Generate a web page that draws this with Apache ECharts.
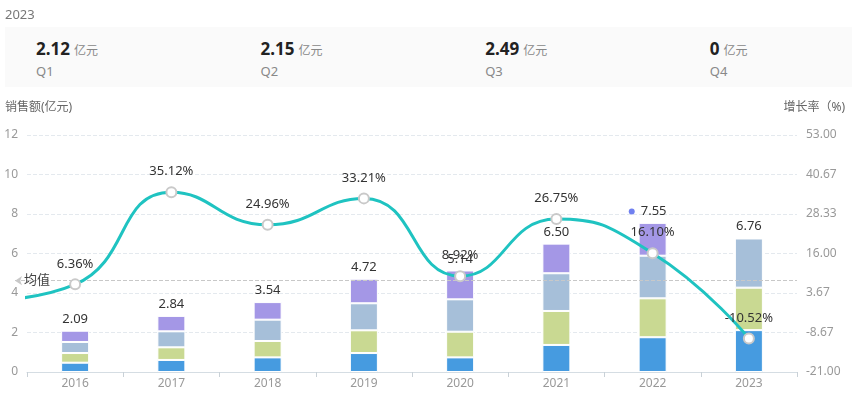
<!DOCTYPE html>
<html>
<head>
<meta charset="utf-8">
<script src="https://cdn.jsdelivr.net/npm/echarts@6/dist/echarts.min.js"></script>
<style>
  html, body { margin: 0; padding: 0; background: #fff; }
  body { width: 857px; height: 399px; position: relative; overflow: hidden;
         font-family: "Noto Sans", "Noto Sans CJK SC", sans-serif; }
  #chart { position: absolute; left: 0; top: 0; width: 857px; height: 399px; }
  .abs { position: absolute; white-space: nowrap; }
  #year { left: 5px; top: 5px; font-size: 13px; line-height: 18px; color: #777; }
  #panel { left: 5px; top: 27px; width: 847px; height: 60px; background: #fafafa; }
  .item { position: absolute; top: 0; }
  .num { position: absolute; top: 11px; font-size: 17px; line-height: 22px; font-weight: bold; color: #222; }
  .unit { font-size: 12px; font-weight: normal; color: #888; margin-left: 4px; }
  .q { position: absolute; top: 35px; font-size: 13px; line-height: 18px; color: #888; }
  #lname { left: 5px; top: 98px; font-size: 12px; line-height: 18px; color: #666; }
  #rname { right: 12px; top: 98px; font-size: 12px; line-height: 18px; color: #666; }
</style>
</head>
<body>
<div id="chart"></div>
<div id="year" class="abs"></div>
<div id="panel" class="abs"></div>
<div id="lname" class="abs">销售额(亿元)</div>
<div id="rname" class="abs">增长率（%)</div>
<script>
// ---- data ----
const YEARS = ['2016', '2017', '2018', '2019', '2020', '2021', '2022', '2023'];
const Q1 = [0.47, 0.61, 0.74, 0.96, 0.74, 1.37, 1.76, 2.12];
const Q2 = [0.49, 0.64, 0.83, 1.15, 1.30, 1.72, 1.97, 2.15];
const Q3 = [0.56, 0.81, 1.08, 1.37, 1.64, 1.91, 2.16, 2.49];
const Q4 = [0.57, 0.78, 0.89, 1.24, 1.46, 1.50, 1.66, 0];
const QUARTER_NAMES = ['Q1', 'Q2', 'Q3', 'Q4'];
const GROWTH_YEARS = ['2015', '2016', '2017', '2018', '2019', '2020', '2021', '2022', '2023'];
const GROWTH = [1.0, 6.36, 35.12, 24.96, 33.21, 8.92, 26.75, 16.10, -10.52];
const CURRENT_YEAR = '2023';
const UNIT = '亿元';
const MEAN_LABEL = '均值';

// ---- derived ----
const QUARTERS = [Q1, Q2, Q3, Q4];
const TOTALS = YEARS.map((y, i) => QUARTERS.reduce((s, q) => s + q[i], 0));
const curIdx = YEARS.indexOf(CURRENT_YEAR);
const completeTotals = TOTALS.filter((t, i) => i !== curIdx);
const MEAN = completeTotals.reduce((a, b) => a + b, 0) / completeTotals.length;
const maxIdx = TOTALS.indexOf(Math.max.apply(null, TOTALS));

// ---- header ----
document.getElementById('year').textContent = CURRENT_YEAR;
const panel = document.getElementById('panel');
QUARTERS.forEach((q, k) => {
  const v = q[curIdx];
  const it = document.createElement('div');
  it.className = 'item';
  it.style.left = (31 + k * 224.6) + 'px';
  it.innerHTML = '<div class="num">' + (v === 0 ? '0' : v.toFixed(2)) +
    '<span class="unit">' + UNIT + '</span></div><div class="q">' + QUARTER_NAMES[k] + '</div>';
  panel.appendChild(it);
});

// ---- chart ----
const FONT = '"Noto Sans", "Noto Sans CJK SC", sans-serif';
const COLORS = ['#469be0', '#c9d992', '#a6bfd9', '#a497e6'];
const chart = echarts.init(document.getElementById('chart'));

const barSeries = QUARTERS.map((q, k) => {
  const s = {
    type: 'bar',
    name: QUARTER_NAMES[k],
    stack: 'total',
    barWidth: 28,
    xAxisIndex: 0,
    yAxisIndex: 0,
    itemStyle: { color: COLORS[k], borderColor: '#fff', borderWidth: 1 },
    data: q.slice()
  };
  if (k === 3) {
    s.data = q.map((v, i) => i === maxIdx
      ? { value: v, label: { offset: [-5, 0] } }
      : v);
    s.label = {
      show: true,
      position: 'top',
      distance: 5,
      color: '#333',
      fontSize: 13,
      fontFamily: FONT,
      formatter: p => {
        const t = TOTALS[p.dataIndex].toFixed(2);
        return p.dataIndex === maxIdx ? '{dot|}{gap|}' + t : t;
      },
      rich: {
        dot: { width: 6, height: 6, borderRadius: 3, backgroundColor: '#7080f0' },
        gap: { width: 6 }
      }
    };
  }
  if (k === 0) {
    s.markLine = {
      silent: true,
      symbol: ['arrow', 'none'],
      symbolSize: [7, 7],
      lineStyle: { type: 'dashed', color: '#c8c8c8', width: 1 },
      itemStyle: { color: '#cfcfcf' },
      label: {
        show: true,
        position: 'start',
        distance: -35,
        formatter: MEAN_LABEL,
        color: '#444',
        fontSize: 13,
        fontFamily: FONT
      },
      data: [[{ x: 15, yAxis: MEAN }, { x: 797, yAxis: MEAN }]]
    };
  }
  return s;
});

const lineSeries = {
  type: 'line',
  name: '增长率',
  xAxisIndex: 1,
  yAxisIndex: 1,
  smooth: true,
  clip: true,
  z: 5,
  symbol: 'circle',
  symbolSize: 10,
  lineStyle: { color: '#1fc3c1', width: 3 },
  itemStyle: { color: '#fff', borderColor: '#c9c9c9', borderWidth: 2 },
  label: {
    show: true,
    position: 'top',
    distance: 8,
    color: '#333',
    fontSize: 13,
    fontFamily: FONT,
    formatter: p => p.value[1].toFixed(2) + '%'
  },
  data: GROWTH.map((v, i) => [Number(GROWTH_YEARS[i]) - Number(YEARS[0]), v])
};

chart.setOption({
  animation: false,
  textStyle: { fontFamily: FONT },
  grid: { left: 27, right: 60, top: 135, bottom: 27, containLabel: false },
  xAxis: [
    {
      type: 'category',
      data: YEARS,
      boundaryGap: true,
      axisLine: { lineStyle: { color: '#d5dde3' } },
      axisTick: { show: true, length: 5, lineStyle: { color: '#c9d1d7' } },
      axisLabel: { color: '#999', fontSize: 12, margin: 6, fontFamily: FONT }
    },
    {
      type: 'value',
      min: -0.5,
      max: YEARS.length - 0.5,
      show: false
    }
  ],
  yAxis: [
    {
      type: 'value',
      min: 0,
      max: 12,
      interval: 2,
      axisLine: { show: false },
      axisTick: { show: false },
      axisLabel: { color: '#999', fontSize: 12, margin: 9, fontFamily: FONT },
      splitLine: { lineStyle: { type: 'dashed', color: '#e4e9ee' } }
    },
    {
      type: 'value',
      min: -21,
      max: 53,
      interval: 74 / 6,
      axisLine: { show: false },
      axisTick: { show: false },
      splitLine: { show: false },
      axisLabel: {
        color: '#999', fontSize: 12, margin: 9, fontFamily: FONT,
        formatter: v => v.toFixed(2)
      }
    }
  ],
  series: barSeries.concat([lineSeries])
});
</script>
</body>
</html>
